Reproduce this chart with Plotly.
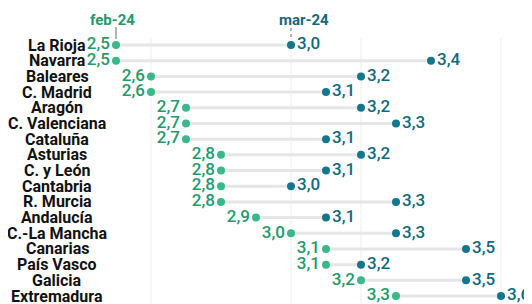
import plotly.graph_objects as go

regions = ["La Rioja", "Navarra", "Baleares", "C. Madrid", "Aragón", "C. Valenciana",
           "Cataluña", "Asturias", "C. y León", "Cantabria", "R. Murcia", "Andalucía",
           "C.-La Mancha", "Canarias", "País Vasco", "Galicia", "Extremadura"]
feb24 = [2.5, 2.5, 2.6, 2.6, 2.7, 2.7, 2.7, 2.8, 2.8, 2.8, 2.8, 2.9, 3.0, 3.1, 3.1, 3.2, 3.3]
mar24 = [3.0, 3.4, 3.2, 3.1, 3.2, 3.3, 3.1, 3.2, 3.1, 3.0, 3.3, 3.1, 3.3, 3.5, 3.2, 3.5, 3.6]
series_names = ["feb-24", "mar-24"]
title_text = "Tasa anual en %"
grid_vals = [2.6, 3.0, 3.2, 3.6]

W, H = 532, 304
OFF = 8  # page body margin
GREEN_M = "#3ab88a"
GREEN_T = "#1e9a6c"
TEAL_M = "#12788c"
TEAL_T = "#0f6a80"
FONT = "Roboto, sans-serif"

def fmt(v):
    return f"{v:.1f}".replace(".", ",")

idx = list(range(len(regions)))

fig = go.Figure()

lx, ly = [], []
for i, (a, b) in enumerate(zip(feb24, mar24)):
    lx += [a, b, None]
    ly += [i, i, None]
fig.add_trace(go.Scatter(x=lx, y=ly, mode="lines",
                         line=dict(color="#e6e6e6", width=3), hoverinfo="skip", showlegend=False))

fig.add_trace(go.Scatter(x=feb24, y=idx, mode="markers+text", name=series_names[0],
                         marker=dict(color=GREEN_M, size=8),
                         text=[fmt(v) for v in feb24], textposition="middle left",
                         textfont=dict(family=FONT, size=17, weight=500, color=GREEN_T), showlegend=False))
fig.add_trace(go.Scatter(x=mar24, y=idx, mode="markers+text", name=series_names[1],
                         marker=dict(color=TEAL_M, size=8),
                         text=[fmt(v) for v in mar24], textposition="middle right",
                         textfont=dict(family=FONT, size=17, weight=500, color=TEAL_T), showlegend=False))

px0, scale = 116 - OFF, 350.0
xr = [2.5 - px0 / scale, 2.5 + (W - px0) / scale]
row0, step = 45 - OFF, 15.69
yr = [(H - row0) / step, -row0 / step]

def y_of(win_px):
    return (win_px - OFF - row0) / step

def x_of(win_px):
    return 2.5 + (win_px - OFF - px0) / scale

annotations = []
for i, r in enumerate(regions):
    annotations.append(dict(x=x_of(57), y=i, text=f"<b>{r}</b>",
                            showarrow=False, xanchor="center", yanchor="middle",
                            font=dict(family=FONT, size=16, color="#111111")))

annotations.append(dict(x=x_of(112), y=y_of(20), text="<b>" + series_names[0] + "</b>", showarrow=False,
                        font=dict(family=FONT, size=15, color=GREEN_T), xanchor="center", yanchor="middle"))
annotations.append(dict(x=x_of(304), y=y_of(20), text="<b>" + series_names[1] + "</b>", showarrow=False,
                        font=dict(family=FONT, size=15, color=TEAL_T), xanchor="center", yanchor="middle"))
annotations.append(dict(x=x_of(22), y=y_of(-3), text="<b>" + title_text + "</b>",
                        showarrow=False, xanchor="left", yanchor="middle",
                        font=dict(family=FONT, size=17, color="#222222")))

shapes = [
    dict(type="line", x0=feb24[0], x1=feb24[0], y0=y_of(27), y1=y_of(39),
         line=dict(color="#9a9a9a", width=1.5)),
    dict(type="line", x0=mar24[0], x1=mar24[0], y0=y_of(28), y1=y_of(38),
         line=dict(color="#9a9a9a", width=1.5, dash="dot")),
]
for g in grid_vals:
    shapes.append(dict(type="line", x0=g, x1=g, y0=y_of(38), y1=y_of(H + OFF), layer="below",
                       line=dict(color="#eeeeee", width=1)))

fig.update_layout(
    width=W, height=H,
    margin=dict(l=0, r=0, t=0, b=0),
    paper_bgcolor="white", plot_bgcolor="white",
    xaxis=dict(range=xr, visible=False, showgrid=False, zeroline=False),
    yaxis=dict(range=yr, visible=False, showgrid=False, zeroline=False),
    annotations=annotations, shapes=shapes,
)

fig.write_html("out.html")
